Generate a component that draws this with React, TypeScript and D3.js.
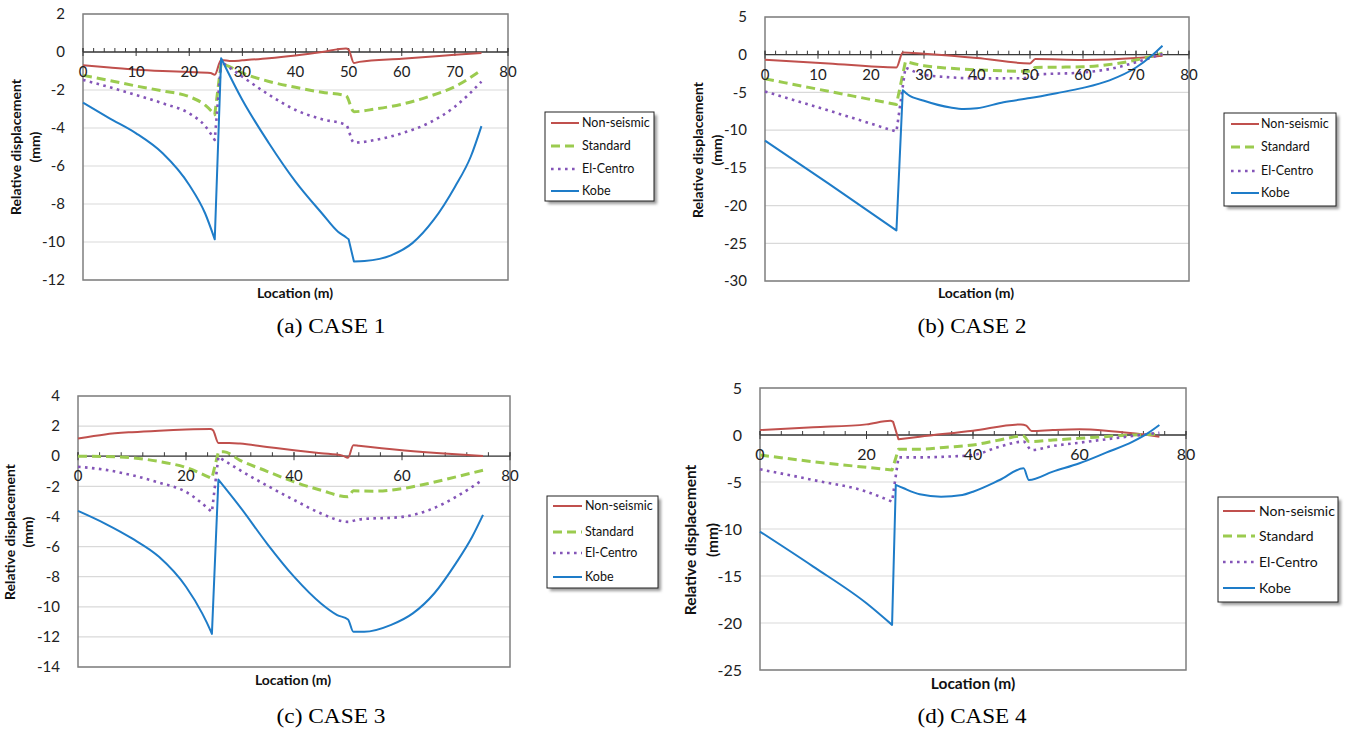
import React from "react";
import * as d3 from "d3";

type Pt = [number, number];

// ---------- DATA ----------
const seriesNames = ["Non-seismic", "Standard", "El-Centro", "Kobe"];
const captions = ["(a) CASE 1", "(b) CASE 2", "(c) CASE 3", "(d) CASE 4"];
const xTitle = "Location (m)";
const yTitleLines = ["Relative displacement", "(mm)"];

const nonSeismic1: Pt[] = [[0,-0.7],[5,-0.82],[10,-0.93],[15,-1.0],[20,-1.05],[24,-1.1],[24.8,-1.2],[26,-0.42],[28,-0.48],[30,-0.44],[35,-0.33],[40,-0.18],[45,0.0],[49.5,0.18],[50,0.12],[51,-0.58],[52,-0.52],[60,-0.35],[70,-0.15],[75,-0.05]];
const standard1: Pt[] = [[0,-1.23],[5,-1.5],[10,-1.79],[15,-2.05],[20,-2.35],[23,-2.8],[24.8,-3.3],[26,-0.6],[27,-0.7],[30,-1.1],[35,-1.55],[40,-1.86],[45,-2.12],[49.5,-2.3],[51,-3.14],[55,-3.0],[60,-2.75],[65,-2.35],[70,-1.82],[75,-0.95]];
const elCentro1: Pt[] = [[0,-1.47],[5,-1.85],[10,-2.26],[15,-2.7],[20,-3.23],[23,-3.9],[24.8,-4.63],[26,-0.5],[30,-1.3],[35,-2.25],[40,-3.05],[45,-3.54],[49.5,-3.84],[51,-4.77],[55,-4.63],[60,-4.28],[65,-3.75],[70,-2.88],[75,-1.56]];
const kobe1: Pt[] = [[0,-2.67],[5,-3.49],[10,-4.28],[15,-5.33],[20,-7.0],[23,-8.5],[24.8,-9.86],[26,-0.33],[30,-2.53],[35,-4.8],[40,-6.82],[45,-8.5],[48,-9.46],[49.5,-9.75],[50,-9.86],[51,-11.03],[53,-11.0],[58,-10.7],[62,-10.06],[66,-8.84],[70,-7.1],[73,-5.5],[75,-3.9]];

const nonSeismic2: Pt[] = [[0,-0.66],[12,-1.15],[24.8,-1.68],[26,0.31],[30,0.12],[40,-0.44],[50,-1.15],[51,-0.58],[60,-0.7],[70,-0.44],[75,-0.13]];
const standard2: Pt[] = [[0,-3.2],[12,-4.85],[24.8,-6.6],[26.5,-0.9],[30,-1.46],[35,-1.8],[40,-2.0],[50,-2.2],[51,-1.7],[60,-1.6],[65,-1.3],[70,-0.7],[75,0.2]];
const elCentro2: Pt[] = [[0,-4.87],[12,-7.4],[24.8,-10.2],[26.5,-1.7],[30,-2.65],[35,-3.0],[40,-3.14],[50,-3.1],[51,-2.65],[60,-2.35],[65,-1.9],[70,-1.0],[75,0.1]];
const kobe2: Pt[] = [[0,-11.4],[12,-17.1],[24.8,-23.3],[26,-4.7],[27,-5.3],[30,-6.1],[35,-7.0],[37.5,-7.2],[40,-7.1],[45,-6.3],[50,-5.75],[55,-5.1],[60,-4.4],[65,-3.4],[70,-1.7],[73,-0.1],[75,1.2]];

const nonSeismic3: Pt[] = [[0,1.17],[5,1.45],[10,1.6],[15,1.7],[20,1.77],[24.5,1.8],[25,1.72],[26,0.88],[28,0.88],[30,0.84],[35,0.62],[40,0.4],[45,0.2],[49,0.04],[50,-0.1],[51,0.73],[52,0.69],[60,0.4],[70,0.13],[75,0.02]];
const standard3: Pt[] = [[0,0],[5,-0.02],[10,-0.1],[15,-0.35],[20,-0.75],[24.8,-1.48],[26,0.29],[27,0.3],[30,-0.27],[35,-1.0],[40,-1.7],[45,-2.26],[50,-2.7],[51,-2.3],[55,-2.32],[60,-2.15],[65,-1.8],[70,-1.37],[75,-0.93]];
const elCentro3: Pt[] = [[0,-0.7],[5,-0.9],[10,-1.26],[15,-1.75],[20,-2.37],[24.8,-3.7],[26,-0.04],[30,-0.93],[35,-1.95],[40,-2.9],[45,-3.8],[50,-4.36],[52,-4.2],[60,-4.03],[65,-3.58],[70,-2.7],[75,-1.55]];
const kobe3: Pt[] = [[0,-3.63],[5,-4.47],[10,-5.46],[15,-6.68],[20,-8.67],[23,-10.44],[24.5,-11.55],[24.8,-11.8],[26,-1.55],[30,-3.36],[35,-5.8],[40,-8.0],[45,-9.78],[48,-10.55],[50,-10.84],[51,-11.66],[53,-11.66],[58,-11.2],[62,-10.44],[66,-9.1],[70,-7.1],[73,-5.35],[75,-3.9]];

const nonSeismic4: Pt[] = [[0,0.53],[10,0.82],[20,1.13],[24.5,1.52],[25,1.4],[26,-0.46],[30,-0.18],[40,0.46],[49,1.13],[50,1.0],[51,0.43],[55,0.53],[60,0.6],[65,0.46],[70,0.18],[75,-0.18]];
const standard4: Pt[] = [[0,-2.13],[10,-2.84],[20,-3.44],[24.8,-3.72],[26,-1.52],[30,-1.52],[35,-1.3],[40,-1.06],[45,-0.53],[49.5,-0.1],[50.5,-0.7],[55,-0.53],[60,-0.35],[70,0],[75,0.1]];
const elCentro4: Pt[] = [[0,-3.65],[10,-4.79],[20,-6.03],[24.8,-7.09],[26,-2.38],[30,-2.38],[35,-2.3],[40,-2.13],[45,-1.24],[49.5,-0.7],[51,-1.6],[55,-1.17],[60,-0.82],[65,-0.46],[70,-0.1],[75,0.25]];
const kobe4: Pt[] = [[0,-10.28],[10,-14.0],[20,-17.9],[24.8,-20.2],[25.5,-5.3],[27,-5.67],[30,-6.3],[34,-6.56],[38,-6.38],[40,-6.03],[45,-4.79],[49.5,-3.55],[50.5,-4.79],[55,-3.9],[60,-3.01],[65,-1.88],[70,-0.71],[73,0.25],[75,1.06]];

const yDomains: [number, number][] = [[-12, 2], [-30, 5], [-14, 4], [-25, 5]];
const yTickSteps = [2, 5, 2, 5];
const xMajorSteps = [10, 10, 20, 20];
const xMinorSteps = [2, 2, 4, 4];
const xDomain: [number, number] = [0, 80];

// ---------- STYLES ----------
const seriesStyles = [
  { color: "#C0504D", width: 2, dash: "" },
  { color: "#9BCB4F", width: 3, dash: "9,5" },
  { color: "#8455B8", width: 2.6, dash: "2.6,4.4" },
  { color: "#1E7CC8", width: 2, dash: "" },
];

const FONT = "Lato, 'Open Sans', sans-serif";

interface Layout {
  plot: { x0: number; x1: number; y0: number; y1: number };
  legend: { x: number; y: number; w: number; h: number; rows: number[]; l0: number; l1: number; tx: number; fs: number };
  yTitle: { x1: number; x2: number; cy: number; fs: number };
  xT: { x: number; y: number; fs: number };
  cap: { x: number; y: number };
  fs: number;
}

const layouts: Layout[] = [
  {
    plot: { x0: 83, x1: 508, y0: 14, y1: 280 },
    legend: { x: 545, y: 112, w: 109, h: 89, rows: [123, 146, 169, 191], l0: 551, l1: 579, tx: 582, fs: 12.5 },
    yTitle: { x1: 16, x2: 35, cy: 147, fs: 14 },
    xT: { x: 295, y: 298, fs: 14 },
    cap: { x: 331, y: 333 },
    fs: 15,
  },
  {
    plot: { x0: 765, x1: 1189, y0: 17, y1: 281 },
    legend: { x: 1224, y: 113, w: 112, h: 93, rows: [124, 147, 171, 193], l0: 1231, l1: 1259, tx: 1261, fs: 12.5 },
    yTitle: { x1: 698, x2: 717, cy: 150, fs: 14 },
    xT: { x: 976, y: 298, fs: 14 },
    cap: { x: 972, y: 333 },
    fs: 15,
  },
  {
    plot: { x0: 78, x1: 510, y0: 396, y1: 667 },
    legend: { x: 547, y: 496, w: 111, h: 92, rows: [506, 532, 553, 577], l0: 553, l1: 582, tx: 585, fs: 12.5 },
    yTitle: { x1: 10, x2: 28, cy: 532, fs: 14 },
    xT: { x: 293, y: 685, fs: 14 },
    cap: { x: 331, y: 723 },
    fs: 15,
  },
  {
    plot: { x0: 760, x1: 1186, y0: 388, y1: 670 },
    legend: { x: 1218, y: 497, w: 120, h: 105, rows: [511, 536, 562, 588], l0: 1223, l1: 1255, tx: 1259, fs: 14 },
    yTitle: { x1: 691, x2: 713, cy: 540, fs: 15.5 },
    xT: { x: 973, y: 689, fs: 15.5 },
    cap: { x: 972, y: 723 },
    fs: 16,
  },
];

const allData: Pt[][][] = [
  [nonSeismic1, standard1, elCentro1, kobe1],
  [nonSeismic2, standard2, elCentro2, kobe2],
  [nonSeismic3, standard3, elCentro3, kobe3],
  [nonSeismic4, standard4, elCentro4, kobe4],
];

// Smooth monotone curves, but keep the steep jumps (section joints) sharp
function buildPath(data: Pt[], x: d3.ScaleLinear<number, number>, y: d3.ScaleLinear<number, number>): string {
  const line = d3
    .line<Pt>()
    .x((d) => x(d[0]))
    .y((d) => y(d[1]))
    .curve(d3.curveMonotoneX);
  const segs: Pt[][] = [];
  let cur: Pt[] = [data[0]];
  for (let i = 1; i < data.length; i++) {
    const a = data[i - 1];
    const b = data[i];
    const slope = Math.abs((y(b[1]) - y(a[1])) / (x(b[0]) - x(a[0])));
    if (slope > 3.2) {
      segs.push(cur);
      cur = [b];
    } else cur.push(b);
  }
  segs.push(cur);
  let out = "";
  segs.forEach((s, k) => {
    let p: string;
    if (s.length === 1) p = `M${x(s[0][0])},${y(s[0][1])}`;
    else p = (line(s) || "").replace(/Z$/, "");
    if (k > 0) p = "L" + p.slice(1);
    out += p;
  });
  return out;
}

function Panel({ idx }: { idx: number }) {
  const L = layouts[idx];
  const { x0, x1, y0, y1 } = L.plot;
  const x = d3.scaleLinear().domain(xDomain).range([x0, x1]);
  const y = d3.scaleLinear().domain(yDomains[idx]).range([y1, y0]);
  const yTicks = d3.range(yDomains[idx][0], yDomains[idx][1] + 0.001, yTickSteps[idx]);
  const xMajor = d3.range(xDomain[0], xDomain[1] + 0.001, xMajorSteps[idx]);
  const xMinor = d3.range(xDomain[0], xDomain[1] + 0.001, xMinorSteps[idx]);
  const zy = y(0);
  const lg = L.legend;
  return (
    <g>
      {yTicks.map((t) => (
        <line key={"g" + t} x1={x0} x2={x1} y1={y(t)} y2={y(t)} stroke="#D9D9D9" strokeWidth={1.2} />
      ))}
      <rect x={x0} y={y0} width={x1 - x0} height={y1 - y0} fill="none" stroke="#7F7F7F" strokeWidth={1.5} />
      <line x1={x0} x2={x1} y1={zy} y2={zy} stroke="#3A3A3A" strokeWidth={1.3} />
      {xMinor.map((t) => (
        <line key={"mi" + t} x1={x(t)} x2={x(t)} y1={zy - 4} y2={zy} stroke="#3A3A3A" strokeWidth={1} />
      ))}
      {xMajor.map((t) => (
        <line key={"ma" + t} x1={x(t)} x2={x(t)} y1={zy - 4} y2={zy + 4} stroke="#3A3A3A" strokeWidth={1} />
      ))}
      {yTicks.map((t) => (
        <text key={"yl" + t} x={x0 - 18} y={y(t)} dy="0.35em" textAnchor="end" fontFamily={FONT} fontSize={L.fs} fill="#222">
          {t}
        </text>
      ))}
      {allData[idx].map((s, i) => (
        <path
          key={"s" + i}
          d={buildPath(s, x, y)}
          fill="none"
          stroke={seriesStyles[i].color}
          strokeWidth={seriesStyles[i].width}
          strokeDasharray={seriesStyles[i].dash}
          strokeLinejoin="round"
        />
      ))}
      {xMajor.map((t) => (
        <text key={"xl" + t} x={x(t)} y={zy + 25} textAnchor="middle" fontFamily={FONT} fontSize={L.fs} fill="#222">
          {t}
        </text>
      ))}
      <text x={L.xT.x} y={L.xT.y} textAnchor="middle" fontFamily={FONT} fontWeight="bold" fontSize={L.xT.fs} fill="#111">
        {xTitle}
      </text>
      {yTitleLines.map((tl, k) => {
        const tx = k === 0 ? L.yTitle.x1 : L.yTitle.x2;
        return (
          <text
            key={"yt" + k}
            transform={`translate(${tx},${L.yTitle.cy}) rotate(-90)`}
            dy="0.35em"
            textAnchor="middle"
            fontFamily={FONT}
            fontWeight="bold"
            fontSize={L.yTitle.fs}
            fill="#111"
          >
            {tl}
          </text>
        );
      })}
      <rect x={lg.x + 3} y={lg.y + 3} width={lg.w} height={lg.h} fill="#9A9A9A" filter="url(#blur)" />
      <rect x={lg.x} y={lg.y} width={lg.w} height={lg.h} fill="#fff" stroke="#222" strokeWidth={1} />
      {seriesNames.map((n, i) => (
        <g key={"lg" + i}>
          <line
            x1={lg.l0}
            x2={lg.l1}
            y1={lg.rows[i]}
            y2={lg.rows[i]}
            stroke={seriesStyles[i].color}
            strokeWidth={seriesStyles[i].width}
            strokeDasharray={seriesStyles[i].dash}
          />
          <text x={lg.tx} y={lg.rows[i]} dy="0.35em" fontFamily={FONT} fontSize={lg.fs} fill="#111">
            {n}
          </text>
        </g>
      ))}
      <text
        x={L.cap.x}
        y={L.cap.y}
        textAnchor="middle"
        fontFamily="'Liberation Serif', 'Times New Roman', serif"
        fontSize={20}
        textLength={109}
        lengthAdjust="spacingAndGlyphs"
        fill="#000"
      >
        {captions[idx]}
      </text>
    </g>
  );
}

export default function App() {
  return (
    <div style={{ position: "absolute", left: 0, top: 0 }}>
      <svg width={1347} height={731} style={{ display: "block", background: "#fff" }}>
        <defs>
          <filter id="blur" x="-10%" y="-10%" width="120%" height="120%">
            <feGaussianBlur stdDeviation="1.5" />
          </filter>
        </defs>
        {[0, 1, 2, 3].map((i) => (
          <Panel key={i} idx={i} />
        ))}
      </svg>
    </div>
  );
}
